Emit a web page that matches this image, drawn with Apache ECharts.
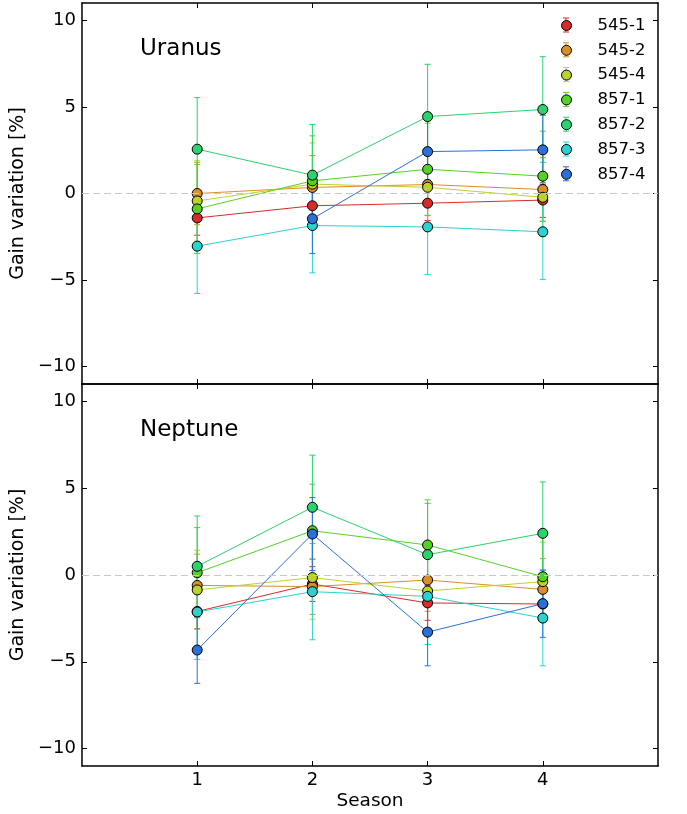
<!DOCTYPE html>
<html>
<head>
<meta charset="utf-8">
<script src="https://cdn.jsdelivr.net/npm/echarts@6/dist/echarts.min.js"></script>
<style>html,body{margin:0;padding:0;background:#fff;}#c{width:687px;height:814px;}</style>
</head>
<body>
<div id="c"></div>
<script>
const seasons = [1, 2, 3, 4];
const detectors = ['545-1', '545-2', '545-4', '857-1', '857-2', '857-3', '857-4'];
const colors = ['#d92a2a', '#d98f25', '#bcd22c', '#55d125', '#2ad36b', '#2ad2d0', '#2a70d8'];
const yTicks = [-10, -5, 0, 5, 10];
const xTicks = [1, 2, 3, 4];

// Uranus gain variation [%] per detector, seasons 1-4
const uranus_545_1 = [-1.41, -0.71, -0.56, -0.38];
const uranus_545_2 = [0.0, 0.35, 0.52, 0.23];
const uranus_545_4 = [-0.43, 0.54, 0.36, -0.22];
const uranus_857_1 = [-0.89, 0.73, 1.40, 1.0];
const uranus_857_2 = [2.56, 1.06, 4.44, 4.85];
const uranus_857_3 = [-3.04, -1.85, -1.93, -2.21];
const uranus_857_4 = [null, -1.46, 2.42, 2.52];
// Uranus errors
const uranusErr_545_1 = [1.0, 1.0, 1.0, 1.0];
const uranusErr_545_2 = [1.8, 1.84, 1.8, 1.84];
const uranusErr_545_4 = [2.32, 2.38, 2.3, 2.28];
const uranusErr_857_1 = [2.57, 2.6, 2.66, 2.6];
const uranusErr_857_2 = [2.98, 2.92, 3.02, 3.05];
const uranusErr_857_3 = [2.73, 2.73, 2.74, 2.75];
const uranusErr_857_4 = [null, 2.0, 2.0, 2.0];

// Neptune gain variation [%]
const neptune_545_1 = [-2.10, -0.52, -1.61, -1.67];
const neptune_545_2 = [-0.60, -0.67, -0.29, -0.83];
const neptune_545_4 = [-0.86, -0.15, -0.92, -0.38];
const neptune_857_1 = [0.13, 2.55, 1.73, -0.10];
const neptune_857_2 = [0.50, 3.90, 1.17, 2.40];
const neptune_857_3 = [-2.13, -0.96, -1.23, -2.48];
const neptune_857_4 = [-4.32, 2.36, -3.29, -1.65];
// Neptune errors
const neptuneErr_545_1 = [1.0, 1.0, 1.0, 1.0];
const neptuneErr_545_2 = [1.8, 1.6, 1.8, 1.77];
const neptuneErr_545_4 = [2.28, 2.4, 2.3, 2.28];
const neptuneErr_857_1 = [2.6, 2.68, 2.6, 2.6];
const neptuneErr_857_2 = [2.9, 3.0, 2.96, 2.96];
const neptuneErr_857_3 = [2.73, 2.77, 2.77, 2.75];
const neptuneErr_857_4 = [1.92, 2.1, 1.94, 1.94];

const uranusVals = [uranus_545_1, uranus_545_2, uranus_545_4, uranus_857_1, uranus_857_2, uranus_857_3, uranus_857_4];
const uranusErrs = [uranusErr_545_1, uranusErr_545_2, uranusErr_545_4, uranusErr_857_1, uranusErr_857_2, uranusErr_857_3, uranusErr_857_4];
const neptuneVals = [neptune_545_1, neptune_545_2, neptune_545_4, neptune_857_1, neptune_857_2, neptune_857_3, neptune_857_4];
const neptuneErrs = [neptuneErr_545_1, neptuneErr_545_2, neptuneErr_545_4, neptuneErr_857_1, neptuneErr_857_2, neptuneErr_857_3, neptuneErr_857_4];

const FONT = 'DejaVu Sans';
const chart = echarts.init(document.getElementById('c'), null, {renderer: 'canvas'});

function errRender(params, api) {
  const x = api.value(0), y = api.value(1), e = api.value(2);
  if (isNaN(y) || isNaN(e)) return null;
  const top = api.coord([x, y + e]);
  const bot = api.coord([x, y - e]);
  const c = api.visual('color');
  const cw = 3;
  const st = {stroke: c, lineWidth: 1};
  return {type: 'group', children: [
    {type: 'line', shape: {x1: top[0], y1: top[1], x2: bot[0], y2: bot[1]}, style: st},
    {type: 'line', shape: {x1: top[0] - cw, y1: top[1], x2: top[0] + cw, y2: top[1]}, style: st},
    {type: 'line', shape: {x1: bot[0] - cw, y1: bot[1], x2: bot[0] + cw, y2: bot[1]}, style: st}
  ]};
}

const series = [];
function addPanel(vals, errs, xi, yi) {
  series.push({
    type: 'line', name: 'zero' + xi, xAxisIndex: xi, yAxisIndex: yi, data: [], silent: true,
    markLine: {silent: true, symbol: 'none', label: {show: false},
      lineStyle: {color: '#c8c8c8', width: 1, type: [7, 4]}, data: [{yAxis: 0}]}
  });
  detectors.forEach((d, i) => {
    series.push({
      type: 'custom', name: d + ' err' + xi, xAxisIndex: xi, yAxisIndex: yi,
      itemStyle: {color: colors[i]}, renderItem: errRender, silent: true,
      encode: {x: 0, y: 1},
      data: seasons.map((s, k) => [s, vals[i][k] == null ? NaN : vals[i][k], errs[i][k] == null ? NaN : errs[i][k]])
    });
    series.push({
      type: 'line', name: d, xAxisIndex: xi, yAxisIndex: yi,
      data: seasons.map((s, k) => [s, vals[i][k]]).filter(p => p[1] != null),
      symbol: 'circle', symbolSize: 10, showSymbol: true,
      lineStyle: {color: colors[i], width: 1},
      itemStyle: {color: colors[i], borderColor: '#000', borderWidth: 1},
      emphasis: {disabled: true}, animation: false
    });
  });
}
addPanel(uranusVals, uranusErrs, 0, 0);
addPanel(neptuneVals, neptuneErrs, 2, 2);

const axisLineStyle = {show: true, onZero: false, lineStyle: {color: '#000', width: 1.5}};
function xAxis(grid, pos, labels) {
  return {
    type: 'value', gridIndex: grid, position: pos, min: 0, max: 5,
    axisLine: axisLineStyle,
    axisTick: {show: true, inside: true, length: 5, customValues: xTicks, lineStyle: {color: '#000', width: 1}},
    axisLabel: {show: labels, customValues: xTicks, color: '#000', fontFamily: FONT, fontSize: 18, margin: 5},
    splitLine: {show: false},
    name: labels ? 'Season' : '', nameLocation: 'middle', nameGap: 26,
    nameTextStyle: {color: '#000', fontFamily: FONT, fontSize: 18.5}
  };
}
function yAxis(grid, pos, labels) {
  return {
    type: 'value', gridIndex: grid, position: pos, min: -11, max: 11,
    axisLine: axisLineStyle,
    axisTick: {show: true, inside: true, length: 5, customValues: yTicks, lineStyle: {color: '#000', width: 1}},
    axisLabel: {show: labels, customValues: yTicks, color: '#000', fontFamily: FONT, fontSize: 18, margin: 6,
      formatter: v => v < 0 ? '\u2212' + Math.abs(v) : String(v)},
    splitLine: {show: false},
    name: labels ? 'Gain variation [%]' : '', nameLocation: 'middle', nameGap: 33,
    nameTextStyle: {color: '#000', fontFamily: FONT, fontSize: 19}
  };
}

// legend error-bar glyphs (decoration next to each legend marker)
const legendGlyphs = [];
detectors.forEach((d, i) => {
  const cy = 25 + i * 24.8;
  const st = {stroke: colors[i], lineWidth: 1};
  legendGlyphs.push({type: 'line', z: 1, shape: {x1: 566, y1: cy - 7, x2: 566, y2: cy + 7}, style: st});
  legendGlyphs.push({type: 'line', z: 1, shape: {x1: 563, y1: cy - 7, x2: 569, y2: cy - 7}, style: st});
  legendGlyphs.push({type: 'line', z: 1, shape: {x1: 563, y1: cy + 7, x2: 569, y2: cy + 7}, style: st});
});

chart.setOption({
  animation: false,
  backgroundColor: '#fff',
  grid: [
    {left: 82, top: 3, width: 576, height: 381},
    {left: 82, top: 384, width: 576, height: 382}
  ],
  xAxis: [xAxis(0, 'bottom', false), xAxis(0, 'top', false), xAxis(1, 'bottom', true), xAxis(1, 'top', false)],
  yAxis: [yAxis(0, 'left', true), yAxis(0, 'right', false), yAxis(1, 'left', true), yAxis(1, 'right', false)],
  legend: {
    data: detectors, orient: 'vertical', left: 561, top: 15.5, padding: 0, z: 5,
    icon: 'circle', itemWidth: 10, itemHeight: 10, itemGap: 4.8,
    itemStyle: {borderColor: '#000', borderWidth: 1},
    textStyle: {color: '#000', fontFamily: FONT, fontSize: 16.5, lineHeight: 20, padding: [0, 0, 0, 21]},
    selectedMode: false
  },
  graphic: [
    {type: 'text', left: 140, top: 38, style: {text: 'Uranus', fill: '#000', font: '23px "DejaVu Sans"'}},
    {type: 'text', left: 140, top: 419, style: {text: 'Neptune', fill: '#000', font: '23px "DejaVu Sans"'}}
  ].concat(legendGlyphs),
  series: series
});
</script>
</body>
</html>
